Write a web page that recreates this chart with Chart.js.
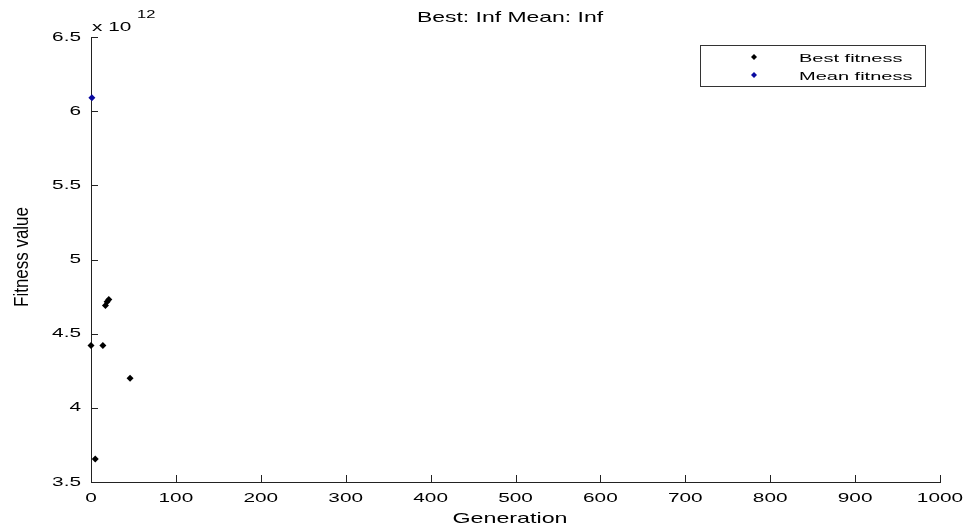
<!DOCTYPE html>
<html>
<head>
<meta charset="utf-8">
<script src="https://cdn.jsdelivr.net/npm/chart.js@4"></script>
<style>
  html, body { margin: 0; padding: 0; background: #fff; }
  #wrap { width: 963px; height: 528px; }
</style>
</head>
<body>
<div id="wrap"><canvas id="grafico"></canvas></div>
<script>
// dados (fitness em unidades reais, expoente 10^12)
const bestGen = [0, 5, 14, 17, 19, 21, 46];
const bestFitness = [4.42e12, 3.655e12, 4.42e12, 4.69e12, 4.715e12, 4.73e12, 4.20e12];
const meanGen = [1];
const meanFitness = [6.09e12];
const xTicks = [0, 100, 200, 300, 400, 500, 600, 700, 800, 900, 1000];
const yTicks = [3.5e12, 4e12, 4.5e12, 5e12, 5.5e12, 6e12, 6.5e12];

const FONT = '"Liberation Sans", Arial, sans-serif';

function pontos(xs, ys) {
  return xs.map((x, i) => ({ x: x, y: ys[i] }));
}

// texto esticado na horizontal (a figura original é bem larga)
function texto(ctx, str, x, y, size, esc, align) {
  ctx.save();
  ctx.translate(x, y);
  ctx.scale(esc, 1);
  ctx.font = size + 'px ' + FONT;
  ctx.textAlign = align || 'center';
  ctx.textBaseline = 'middle';
  ctx.fillStyle = '#000';
  ctx.fillText(str, 0, 0);
  ctx.restore();
}

// ticks para dentro, rótulos, títulos, legenda e o "x 10^12"
const matlabPlugin = {
  id: 'matlab',
  afterDraw(chart) {
    const ctx = chart.ctx;
    const a = chart.chartArea;
    const sx = chart.scales.x, sy = chart.scales.y;
    ctx.save();
    ctx.strokeStyle = '#222';
    ctx.lineWidth = 1;
    ctx.beginPath();
    xTicks.forEach(v => {
      const px = Math.round(sx.getPixelForValue(v)) + 0.5;
      ctx.moveTo(px, a.bottom);
      ctx.lineTo(px, a.bottom - 7);
    });
    yTicks.forEach(v => {
      const py = Math.round(sy.getPixelForValue(v)) + 0.5;
      ctx.moveTo(a.left, py);
      ctx.lineTo(a.left + 7, py);
    });
    ctx.stroke();
    ctx.restore();

    xTicks.forEach(v => {
      texto(ctx, String(v), sx.getPixelForValue(v), 498, 13, 1.6);
    });
    yTicks.forEach(v => {
      texto(ctx, String(v / 1e12), 81, sy.getPixelForValue(v), 13, 1.6, 'right');
    });

    texto(ctx, 'Best: Inf Mean: Inf', 510, 18, 15, 1.53);
    texto(ctx, 'Generation', 510, 519, 15, 1.55);
    texto(ctx, 'x 10', 92, 27, 13, 1.6, 'left');
    texto(ctx, '12', 137, 15, 11, 1.5, 'left');

    ctx.save();
    ctx.translate(22, 257);
    ctx.rotate(-Math.PI / 2);
    ctx.scale(1.13, 1.4);
    ctx.font = '15px ' + FONT;
    ctx.textAlign = 'center';
    ctx.textBaseline = 'middle';
    ctx.fillStyle = '#000';
    ctx.fillText('Fitness value', 0, 0);
    ctx.restore();

    // legenda
    ctx.save();
    const lx = 700.5, ly = 45.5, lw = 225, lh = 41;
    ctx.fillStyle = '#fff';
    ctx.fillRect(lx, ly, lw, lh);
    ctx.strokeStyle = '#333';
    ctx.strokeRect(lx, ly, lw, lh);
    chart.data.datasets.forEach((ds, i) => {
      const y = 57 + i * 18;
      ctx.fillStyle = ds.backgroundColor;
      ctx.beginPath();
      ctx.moveTo(754, y - 3);
      ctx.lineTo(757, y);
      ctx.lineTo(754, y + 3);
      ctx.lineTo(751, y);
      ctx.closePath();
      ctx.fill();
      texto(ctx, ds.label, 799, y + 2, 10, 2.0, 'left');
    });
    ctx.restore();
  }
};

new Chart(document.getElementById('grafico'), {
  type: 'scatter',
  data: {
    datasets: [{
      label: 'Best fitness',
      data: pontos(bestGen, bestFitness),
      backgroundColor: '#000',
      borderColor: '#000',
      pointStyle: 'rectRot',
      pointRadius: 3.5,
      borderWidth: 0,
      clip: false
    }, {
      label: 'Mean fitness',
      data: pontos(meanGen, meanFitness),
      backgroundColor: '#0a0aa0',
      borderColor: '#0a0aa0',
      pointStyle: 'rectRot',
      pointRadius: 3.5,
      borderWidth: 0,
      clip: false
    }]
  },
  options: {
    responsive: true,
    maintainAspectRatio: false,
    animation: false,
    layout: { padding: { left: 0, right: 23, top: 37, bottom: 0 } },
    plugins: {
      legend: { display: false },
      tooltip: { enabled: false }
    },
    scales: {
      x: {
        type: 'linear',
        min: 0,
        max: 1000,
        afterFit: s => { s.height = 46; },
        grid: { display: false },
        border: { display: true, color: '#222', width: 1 },
        ticks: { display: false }
      },
      y: {
        type: 'linear',
        min: 3.5e12,
        max: 6.5e12,
        afterFit: s => { s.width = 91; },
        grid: { display: false },
        border: { display: true, color: '#222', width: 1 },
        ticks: { display: false }
      }
    }
  },
  plugins: [matlabPlugin]
});
</script>
</body>
</html>
